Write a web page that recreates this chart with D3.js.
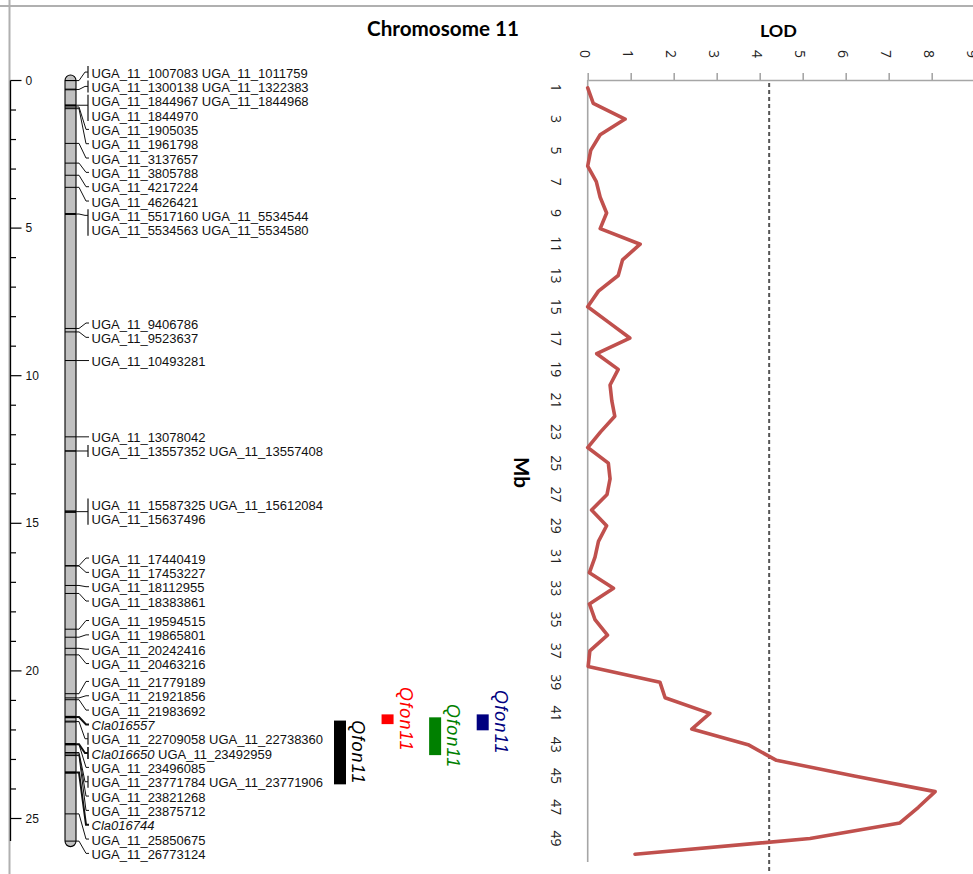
<!DOCTYPE html>
<html><head><meta charset="utf-8">
<script src="https://cdn.jsdelivr.net/npm/d3@7"></script>
<style>
html,body{margin:0;padding:0;background:#fff;}
svg{display:block;}
</style></head>
<body>
<svg id="chart" width="973" height="874"></svg>
<script>
// ================= DATA =================
const chromosomeTitle = "Chromosome 11";
const mbAxisMajor = [0, 5, 10, 15, 20, 25];
const mbAxisMinor = [0,1,2,3,4,5,6,7,8,9,10,11,12,13,14,15,16,17,18,19,20,21,22,23,24,25];

// marker label groups: each group is a list of label rows, each row a list of marker names
const markerGroups = [
  [["UGA_11_1007083","UGA_11_1011759"]],
  [["UGA_11_1300138","UGA_11_1322383"]],
  [["UGA_11_1844967","UGA_11_1844968"],["UGA_11_1844970"]],
  [["UGA_11_1905035"]],
  [["UGA_11_1961798"]],
  [["UGA_11_3137657"]],
  [["UGA_11_3805788"]],
  [["UGA_11_4217224"]],
  [["UGA_11_4626421"]],
  [["UGA_11_5517160","UGA_11_5534544"],["UGA_11_5534563","UGA_11_5534580"]],
  [["UGA_11_9406786"]],
  [["UGA_11_9523637"]],
  [["UGA_11_10493281"]],
  [["UGA_11_13078042"]],
  [["UGA_11_13557352","UGA_11_13557408"]],
  [["UGA_11_15587325","UGA_11_15612084"],["UGA_11_15637496"]],
  [["UGA_11_17440419"]],
  [["UGA_11_17453227"]],
  [["UGA_11_18112955"]],
  [["UGA_11_18383861"]],
  [["UGA_11_19594515"]],
  [["UGA_11_19865801"]],
  [["UGA_11_20242416"]],
  [["UGA_11_20463216"]],
  [["UGA_11_21779189"]],
  [["UGA_11_21921856"]],
  [["UGA_11_21983692"]],
  [["Cla016557"]],
  [["UGA_11_22709058","UGA_11_22738360"]],
  [["Cla016650","UGA_11_23492959"]],
  [["UGA_11_23496085"]],
  [["UGA_11_23771784","UGA_11_23771906"]],
  [["UGA_11_23821268"]],
  [["UGA_11_23875712"]],
  [["Cla016744"]],
  [["UGA_11_25850675"]],
  [["UGA_11_26773124"]]
];
const claGenes = ["Cla016557", "Cla016650", "Cla016744"];
const claGeneMb = [22.57, 23.49, 24.45];

const qtlNames = ["Qfon11", "Qfon11", "Qfon11", "Qfon11"];
const qtlStartMb = [22.69, 22.48, 22.58, 22.48];
const qtlEndMb = [24.85, 22.81, 23.86, 23.02];
const qtlColors = ["#000000", "#ff0000", "#008000", "#000080"];

const lodTitle = "LOD";
const lodAxisTitle = "Mb";
const lodTicks = [0,1,2,3,4,5,6,7,8,9];
const lodPositions = [1,2,3,4,5,6,7,8,9,10,11,12,13,14,15,16,17,18,19,20,21,22,23,24,25,
                      26,27,28,29,30,31,32,33,34,35,36,37,38,39,40,41,42,43,44,45,46,47,48,49,50];
const lodValues = [0.00,0.13,0.87,0.29,0.07,0.00,0.20,0.29,0.44,0.29,
                   1.22,0.81,0.71,0.25,0.00,0.49,0.98,0.21,0.71,0.52,
                   0.56,0.63,0.30,0.00,0.48,0.52,0.45,0.09,0.44,0.25,
                   0.17,0.04,0.60,0.04,0.17,0.46,0.05,0.01,1.68,1.80,
                   2.84,2.42,3.73,4.39,6.20,8.08,7.69,7.26,5.17,1.10];
const lodThreshold = 4.22;

// ================= DRAW =================
const svg = d3.select("#chart");
const W = 973, H = 874;

function markerMb(name) {
  if (name.startsWith("UGA_11_")) return +name.slice(7) / 1e6;
  return claGeneMb[claGenes.indexOf(name)];
}
const isCla = n => claGenes.includes(n);

const allNames = markerGroups.flat(2);
const chromStart = d3.min(allNames, markerMb);
const chromEnd = d3.max(allNames, markerMb);
const chromLen = chromEnd - chromStart;

// frame
svg.append("line").attr("x1", 0).attr("x2", W).attr("y1", 6).attr("y2", 6)
  .attr("stroke", "#b0b0b0").attr("stroke-width", 2);
svg.append("line").attr("x1", 9.5).attr("x2", 9.5).attr("y1", 0).attr("y2", H)
  .attr("stroke", "#b0b0b0").attr("stroke-width", 2);

// Mb axis (left)
const yMb = d3.scaleLinear().domain([0, 25]).range([80.5, 80.5 + 25 * 29.52]);
const ax = svg.append("g").attr("transform", "translate(10.5,0)");
ax.append("line").attr("x1", 0).attr("x2", 0).attr("y1", yMb(0)).attr("y2", yMb(chromLen))
  .attr("stroke", "#000").attr("stroke-width", 1.3);
ax.selectAll("line.minor").data(mbAxisMinor).join("line").attr("class", "minor")
  .attr("x1", 0).attr("x2", d => mbAxisMajor.includes(d) ? 11 : 5.5)
  .attr("y1", d => yMb(d)).attr("y2", d => yMb(d))
  .attr("stroke", "#000").attr("stroke-width", 1.2);
ax.selectAll("text").data(mbAxisMajor).join("text")
  .attr("x", 15).attr("y", d => yMb(d)).attr("dominant-baseline", "central")
  .attr("font-family", "Liberation Sans, Arial, sans-serif").attr("font-size", 12)
  .attr("fill", "#111").text(d => d);

// chromosome
const chrX = 65, chrW = 11;
svg.append("rect").attr("x", chrX).attr("width", chrW)
  .attr("y", yMb(0) - 5.5).attr("height", yMb(chromLen) - yMb(0) + 11)
  .attr("rx", 5.5).attr("ry", 5.5)
  .attr("fill", "#c0c0c0").attr("stroke", "#000").attr("stroke-width", 1.1);

svg.append("g").selectAll("line").data(allNames).join("line")
  .attr("x1", chrX).attr("x2", chrX + chrW)
  .attr("y1", d => yMb(markerMb(d) - chromStart)).attr("y2", d => yMb(markerMb(d) - chromStart))
  .attr("stroke", "#000").attr("stroke-width", d => isCla(d) ? 2.4 : 1);

// label layout (cluster spreading, bottom-up)
const rowH = 14.33;
const units = markerGroups.map(g => {
  const names = g.flat();
  const ys = names.map(n => yMb(markerMb(n) - chromStart));
  const my = d3.mean(ys);
  const k = g.length;
  return { g, names, my, k, desiredTop: my - (k - 1) / 2 * rowH, cla: names.some(isCla) };
});
function place(cl) {
  let n = 0;
  for (let i = cl.first; i <= cl.last; i++) n += units[i].k;
  const dFirst = units[cl.first].desiredTop;
  const dLast = units[cl.last].desiredTop + (units[cl.last].k - 1) * rowH;
  const mid = (dFirst + dLast) / 2;
  cl.top = mid - (n - 1) / 2 * rowH;
  cl.bottom = cl.top + (n - 1) * rowH;
}
const stack = [];
for (let i = units.length - 1; i >= 0; i--) {
  const cl = { first: i, last: i };
  place(cl);
  stack.push(cl);
  while (stack.length >= 2) {
    const up = stack[stack.length - 1], below = stack[stack.length - 2];
    if (up.bottom + rowH - 0.3 > below.top) {
      stack.pop(); stack.pop();
      const m = { first: up.first, last: below.last };
      place(m);
      stack.push(m);
    } else break;
  }
}
stack.forEach(cl => {
  let y = cl.top;
  for (let i = cl.first; i <= cl.last; i++) {
    units[i].rowYs = [];
    for (let r = 0; r < units[i].k; r++) { units[i].rowYs.push(y); y += rowH; }
  }
});

const lblG = svg.append("g");
units.forEach(u => {
  const first = u.rowYs[0], last = u.rowYs[u.rowYs.length - 1];
  const bracket = u.names.length > 1;
  const ty = bracket ? Math.max(first, Math.min(last, u.my)) : first;
  const sw = u.cla ? 2 : 1;
  const endX = bracket ? 88 : 89;
  lblG.append("path")
    .attr("d", `M${chrX + chrW},${u.my}H${chrX + chrW + 3}L${endX - 3},${ty}H${endX}`)
    .attr("fill", "none").attr("stroke", "#111").attr("stroke-width", sw);
  if (bracket) {
    lblG.append("line").attr("x1", 88).attr("x2", 88)
      .attr("y1", first - 6).attr("y2", last + 6)
      .attr("stroke", "#111").attr("stroke-width", u.cla ? 1.6 : 1.2);
  }
  u.g.forEach((row, ri) => {
    const t = lblG.append("text").attr("x", 91.5).attr("y", u.rowYs[ri] + 0.5)
      .attr("dominant-baseline", "central")
      .attr("font-family", "Liberation Sans, Arial, sans-serif").attr("font-size", 13)
      .attr("fill", "#111");
    row.forEach((n, ni) => {
      t.append("tspan").attr("font-style", isCla(n) ? "italic" : "normal")
        .text((ni > 0 ? " " : "") + n);
    });
  });
});

// title
function fitWidth(sel, target) {
  const L = sel.node().getComputedTextLength();
  const fs = parseFloat(sel.attr("font-size"));
  sel.attr("font-size", fs * target / L);
}
const title = svg.append("text").attr("x", 367).attr("y", 35.5)
  .attr("font-family", "Lato, 'Open Sans', sans-serif").attr("font-weight", "bold")
  .attr("font-size", 19).attr("fill", "#000").text(chromosomeTitle);
fitWidth(title, 152);

// QTL bars
const xQ = d3.scalePoint().domain(d3.range(qtlNames.length)).range([334, 476.7]);
const qG = svg.append("g");
qtlNames.forEach((name, i) => {
  const y0 = yMb(qtlStartMb[i] - chromStart), y1 = yMb(qtlEndMb[i] - chromStart);
  qG.append("rect").attr("x", xQ(i)).attr("width", 12).attr("y", y0).attr("height", y1 - y0)
    .attr("fill", qtlColors[i]);
  const t = qG.append("text")
    .attr("transform", `translate(${xQ(i) + 24},${(y0 + y1) / 2}) rotate(90)`)
    .attr("text-anchor", "middle").attr("dominant-baseline", "central")
    .attr("font-family", "Liberation Sans, Arial, sans-serif").attr("font-style", "italic")
    .attr("font-size", 17).attr("letter-spacing", 1.2).attr("fill", qtlColors[i]).text(name);
  fitWidth(t, 65);
});

// LOD chart (rotated)
const xLod = d3.scaleLinear().domain([0, 9]).range([587.7, 587.7 + 9 * 43]);
const yCat = d3.scalePoint().domain(lodPositions).range([80, 862]).padding(0.5);
const axisColor = "#a6a6a6";
const lodG = svg.append("g");

// top value axis
const topAxis = lodG.append("g").attr("transform", "translate(0,80)")
  .call(d3.axisTop(xLod).tickValues(lodTicks).tickSize(7).tickSizeOuter(0));
topAxis.select(".domain").attr("stroke", axisColor).attr("stroke-width", 1.6);
topAxis.selectAll(".tick line").attr("stroke", axisColor).attr("stroke-width", 1.6);
topAxis.selectAll(".tick text").remove();
lodG.append("g").selectAll("text").data(lodTicks).join("text")
  .attr("transform", d => `translate(${xLod(d) - 2.5},54) rotate(90)`)
  .attr("text-anchor", "middle").attr("dominant-baseline", "central")
  .attr("font-family", "'Open Sans', 'Liberation Sans', sans-serif").attr("font-size", 14)
  .attr("fill", "#222").text(d => d);

// category axis
lodG.append("line").attr("x1", xLod(0)).attr("x2", xLod(0)).attr("y1", 80).attr("y2", 862)
  .attr("stroke", axisColor).attr("stroke-width", 1.6);
lodG.append("g").selectAll("text").data(lodPositions.filter(d => d % 2 === 1)).join("text")
  .attr("transform", d => `translate(556,${yCat(d)}) rotate(90)`)
  .attr("text-anchor", "middle").attr("dominant-baseline", "central")
  .attr("font-family", "'Open Sans', 'Liberation Sans', sans-serif").attr("font-size", 14)
  .attr("fill", "#222").text(d => d);

// threshold
lodG.append("line").attr("x1", xLod(lodThreshold)).attr("x2", xLod(lodThreshold))
  .attr("y1", 83).attr("y2", H)
  .attr("stroke", "#555").attr("stroke-width", 2).attr("stroke-dasharray", "4,3");

// LOD curve
const line = d3.line().x((d, i) => xLod(d)).y((d, i) => yCat(lodPositions[i]));
lodG.append("path").attr("d", line(lodValues))
  .attr("fill", "none").attr("stroke", "#c0504d").attr("stroke-width", 3.6)
  .attr("stroke-linejoin", "round").attr("stroke-linecap", "round");

// titles
const lodT = svg.append("text").attr("x", 760).attr("y", 36.5)
  .attr("font-family", "Lato, 'Open Sans', sans-serif").attr("font-weight", "bold")
  .attr("font-size", 18).attr("fill", "#000").text(lodTitle);
fitWidth(lodT, 37);
const mbT = svg.append("text")
  .attr("transform", "translate(521.5,472.5) rotate(90)")
  .attr("text-anchor", "middle").attr("dominant-baseline", "central")
  .attr("font-family", "Lato, 'Open Sans', sans-serif").attr("font-weight", "bold")
  .attr("font-size", 15).attr("fill", "#000").text(lodAxisTitle);
fitWidth(mbT, 31);
</script>
</body></html>
